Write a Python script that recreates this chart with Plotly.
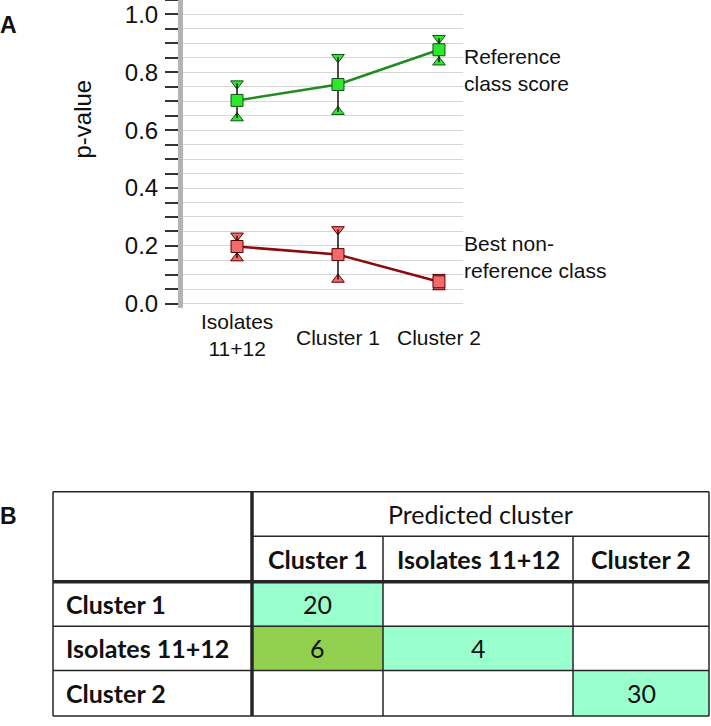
import plotly.graph_objects as go

# ---------------- data: panel A ----------------
categories = ["Isolates 11+12", "Cluster 1", "Cluster 2"]
category_labels = ["Isolates<br>11+12", "Cluster 1", "Cluster 2"]

ref_mean = [0.703, 0.758, 0.878]
ref_hi = [0.761, 0.852, 0.918]
ref_lo = [0.642, 0.664, 0.835]

best_mean = [0.198, 0.170, 0.076]
best_hi = [0.235, 0.257, 0.092]
best_lo = [0.158, 0.084, 0.058]

y_ticks = [0.0, 0.2, 0.4, 0.6, 0.8, 1.0]
y_tick_text = ["0.0", "0.2", "0.4", "0.6", "0.8", "1.0"]

# ---------------- data: panel B ----------------
pred_header = "Predicted cluster"
pred_labels = ["Cluster 1", "Isolates 11+12", "Cluster 2"]
true_labels = ["Cluster 1", "Isolates 11+12", "Cluster 2"]
counts = [[20, None, None],
          [6, 4, None],
          [None, None, 30]]

# ---------------- layout constants ----------------
W, H = 711, 726
def px_x(p): return p / W
def px_y(p): return (H - p) / H

COL_W = [199, 131, 190, 136]   # row-header column + 3 predicted columns
ROW_H = [45, 46, 45, 45, 46]   # header rows + 3 body rows
LINE = "#262626"
AQUA = "#99ffcc"
GREEN = "#92d050"

fig = go.Figure()

def add_series(mean, hi, lo, line_col, fill_col, edge_col, name):
    fig.add_trace(go.Scatter(
        x=categories, y=hi, mode="markers", showlegend=False, hoverinfo="skip",
        marker=dict(symbol="triangle-down", size=11, color=fill_col,
                    line=dict(color=edge_col, width=1))))
    fig.add_trace(go.Scatter(
        x=categories, y=lo, mode="markers", showlegend=False, hoverinfo="skip",
        marker=dict(symbol="triangle-up", size=11, color=fill_col,
                    line=dict(color=edge_col, width=1))))
    fig.add_trace(go.Scatter(
        x=categories, y=mean, mode="lines+markers", name=name, showlegend=False,
        line=dict(color=line_col, width=2.5),
        marker=dict(symbol="square", size=12, color=fill_col,
                    line=dict(color=edge_col, width=1)),
        error_y=dict(type="data", symmetric=False,
                     array=[h - m for h, m in zip(hi, mean)],
                     arrayminus=[m - l for m, l in zip(mean, lo)],
                     color="#111111", thickness=1.5, width=0)))

add_series(ref_mean, ref_hi, ref_lo, "#1e8c1e", "#2ee82e", "#144d14", "Reference class score")
add_series(best_mean, best_hi, best_lo, "#8b0a0a", "#f26a6a", "#5a0000", "Best non-reference class")

fig.update_layout(
    width=W, height=H, autosize=False,
    margin=dict(l=0, r=0, t=0, b=0),
    paper_bgcolor="white", plot_bgcolor="white",
    font=dict(family="Liberation Sans, Arial, sans-serif", color="#111111"),
    xaxis=dict(domain=[px_x(183), px_x(463)], range=[-0.535, 2.238],
               type="category", categoryorder="array", categoryarray=categories,
               showticklabels=False, ticks="", showgrid=False, zeroline=False,
               showline=False, fixedrange=True),
    yaxis=dict(domain=[px_y(312), 1.0], range=[-0.015, 1.05],
               tickvals=y_ticks, ticktext=y_tick_text,
               ticks="outside", ticklen=13, tickwidth=1.5, tickcolor="#333333",
               tickfont=dict(size=24), ticklabelstandoff=2,
               showgrid=True, gridcolor="#d6d6d6", gridwidth=1,
               minor=dict(dtick=0.05, ticks="outside", ticklen=13, tickwidth=1.5,
                          tickcolor="#333333", showgrid=True,
                          gridcolor="#d6d6d6", gridwidth=1),
               showline=True, linecolor="#b4b4b4", linewidth=5,
               zeroline=False, fixedrange=True),
)

annotations = []
# x category labels
for cat, lab in zip(categories, category_labels):
    annotations.append(dict(x=cat, xref="x", y=px_y(339 if "<br>" in lab else 342),
                            yref="paper", text=lab, showarrow=False,
                            xanchor="center", yanchor="middle",
                            font=dict(size=21, family="Liberation Sans, Arial")))
# y title
annotations.append(dict(x=px_x(82), y=px_y(121), xref="paper", yref="paper",
                        text="p-value", textangle=-90, showarrow=False,
                        xanchor="center", yanchor="middle",
                        font=dict(size=24, family="Liberation Sans, Arial")))
# series labels
annotations.append(dict(x=px_x(462), y=px_y(71), xref="paper", yref="paper",
                        text="Reference<br>class score", showarrow=False, align="left",
                        xanchor="left", yanchor="middle",
                        font=dict(size=21, family="Liberation Sans, Arial")))
annotations.append(dict(x=px_x(462), y=px_y(260), xref="paper", yref="paper",
                        text="Best non-<br>reference class", showarrow=False, align="left",
                        xanchor="left", yanchor="middle",
                        font=dict(size=21, family="Liberation Sans, Arial")))
# panel letters
annotations.append(dict(x=0, y=px_y(25), xref="paper", yref="paper", text="<b>A</b>",
                        showarrow=False, xanchor="left", yanchor="middle", xshift=-2,
                        font=dict(size=23, family="Liberation Sans, Arial")))
annotations.append(dict(x=0, y=px_y(522), xref="paper", yref="paper", text="<b>B</b>",
                        showarrow=False, xanchor="left", yanchor="middle", xshift=-2,
                        font=dict(size=23, family="Liberation Sans, Arial")))

# ---------------- panel B: table ----------------
x_edges = [0]
for w in COL_W:
    x_edges.append(x_edges[-1] + w)
y_edges = [0]
for h in ROW_H:
    y_edges.append(y_edges[-1] + h)
total_w, total_h = x_edges[-1], y_edges[-1]

fig.update_layout(
    xaxis2=dict(domain=[px_x(51), 1.0], range=[-2, total_w + 2], anchor="y2",
                visible=False, fixedrange=True),
    yaxis2=dict(domain=[0.0, px_y(496)], range=[total_h + 1, -2], anchor="x2",
                visible=False, fixedrange=True),
)

# body cell colours: correct (diagonal) = aqua, misclassified = green, empty = white
z = []
for i, row in enumerate(counts):
    zr = []
    for j, v in enumerate(row):
        if v is None:
            zr.append(0)
        elif i == j:
            zr.append(1)
        else:
            zr.append(2)
    z.append(zr)

fig.add_trace(go.Heatmap(
    x=x_edges[1:], y=y_edges[2:], z=z, xaxis="x2", yaxis="y2",
    zmin=0, zmax=2, colorscale=[[0, "white"], [0.5, AQUA], [1, GREEN]],
    showscale=False, hoverinfo="skip"))

shapes = []
def hline(y, x0, x1, w=1.5):
    shapes.append(dict(type="line", xref="x2", yref="y2", x0=x0, x1=x1, y0=y, y1=y,
                       line=dict(color=LINE, width=w)))
def vline(x, y0, y1, w=1.5):
    shapes.append(dict(type="line", xref="x2", yref="y2", x0=x, x1=x, y0=y0, y1=y1,
                       line=dict(color=LINE, width=w)))

# outer border
hline(0, 0, total_w); hline(total_h, 0, total_w)
vline(0, 0, total_h); vline(total_w, 0, total_h)
# under "Predicted cluster"
hline(y_edges[1], x_edges[1], total_w)
# body row separators
hline(y_edges[3], 0, total_w); hline(y_edges[4], 0, total_w)
# column separators among predicted columns
vline(x_edges[2], y_edges[1], total_h); vline(x_edges[3], y_edges[1], total_h)
# thick separators
vline(x_edges[1], 0, total_h, 3.5)
hline(y_edges[2], 0, total_w, 3.5)

TF = "Lato, Open Sans, sans-serif"
# header text
annotations.append(dict(x=(x_edges[1] + total_w) / 2, y=(y_edges[0] + y_edges[1]) / 2,
                        xref="x2", yref="y2", text=pred_header, showarrow=False,
                        font=dict(size=25, family=TF, color="#111")))
for j, lab in enumerate(pred_labels):
    annotations.append(dict(x=(x_edges[j + 1] + x_edges[j + 2]) / 2,
                            y=(y_edges[1] + y_edges[2]) / 2, xref="x2", yref="y2",
                            text="<b>" + lab + "</b>", showarrow=False,
                            font=dict(size=25, family=TF, color="#111")))
for i, lab in enumerate(true_labels):
    yc = (y_edges[i + 2] + y_edges[i + 3]) / 2
    annotations.append(dict(x=11, y=yc, xref="x2", yref="y2", text="<b>" + lab + "</b>",
                            showarrow=False, xanchor="left",
                            font=dict(size=25, family=TF, color="#111")))
    for j, v in enumerate(counts[i]):
        if v is not None:
            annotations.append(dict(x=(x_edges[j + 1] + x_edges[j + 2]) / 2, y=yc,
                                    xref="x2", yref="y2", text=str(v), showarrow=False,
                                    font=dict(size=25, family=TF, color="#111")))

fig.update_layout(annotations=annotations, shapes=shapes)
fig.write_html("out.html", config={"displayModeBar": False},
               post_script="document.body.style.margin='0';document.body.style.overflow='hidden';")
